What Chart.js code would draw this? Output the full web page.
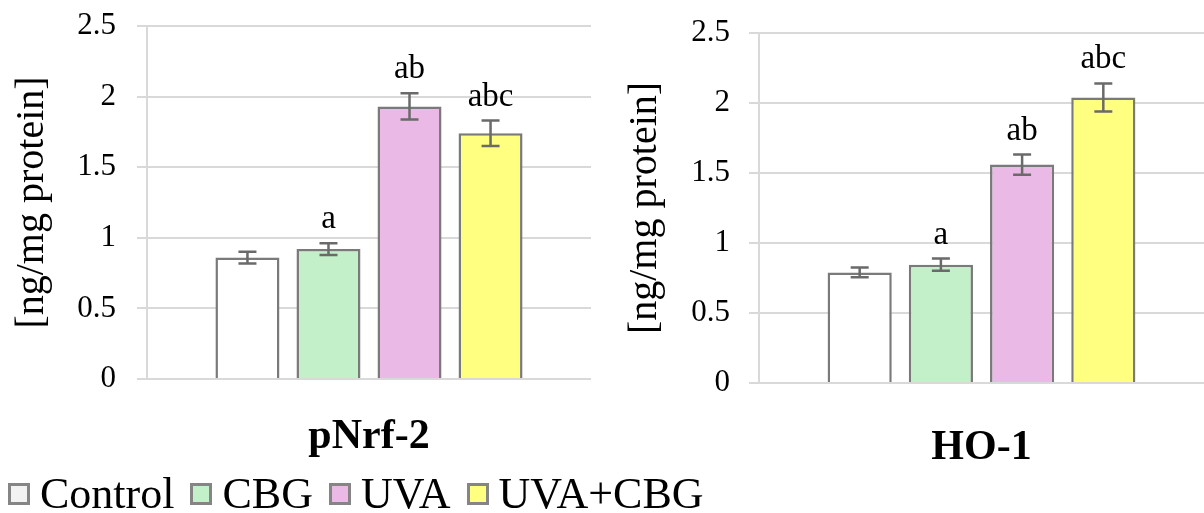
<!DOCTYPE html>
<html>
<head>
<meta charset="utf-8">
<script src="https://cdn.jsdelivr.net/npm/chart.js@4.4.1/dist/chart.umd.min.js"></script>
<style>
  html, body { margin: 0; padding: 0; background: #fff; }
  body { width: 1204px; height: 513px; position: relative; overflow: hidden;
         font-family: "Liberation Serif", "Times New Roman", serif; }
  .panel { position: absolute; top: 0; }
  #legend { position: absolute; left: 8px; top: 472px; display: flex; align-items: center;
            font-size: 44px; line-height: 44px; color: #000; white-space: nowrap; }
  #legend .item { display: flex; align-items: center; margin-right: 16px; }
  #legend .sw { width: 16px; height: 16px; border: 3px solid #858585; margin-right: 10px; }
</style>
</head>
<body>
<div class="panel" style="left:0;width:600px;height:460px"><canvas id="nrf"></canvas></div>
<div class="panel" style="left:600px;width:604px;height:470px"><canvas id="ho"></canvas></div>
<div id="legend"></div>
<script>
const groups = ['Control', 'CBG', 'UVA', 'UVA+CBG'];

const nrfValues = [0.86, 0.92, 1.93, 1.74];
const nrfErrors = [0.042, 0.041, 0.093, 0.09];
const nrfLetters = ['', 'a', 'ab', 'abc'];

const hoValues = [0.79, 0.845, 1.56, 2.04];
const hoErrors = [0.035, 0.044, 0.072, 0.1];
const hoLetters = ['', 'a', 'ab', 'abc'];

const yTicks = { min: 0, max: 2.5, step: 0.5 };

const barColors = ['#ffffff', '#c3f0c8', '#ebb9e5', '#ffff80'];
const swatchColors = ['#f2f2f2', '#c3f0c8', '#ebb9e5', '#ffff80'];
const serif = '"Liberation Serif", "Times New Roman", serif';

// error bars + significance letters, drawn from the bar elements
const errorBars = {
    id: 'errorBars',
    afterDatasetsDraw(chart) {
        const ctx = chart.ctx;
        const y = chart.scales.y;
        chart.data.datasets.forEach((ds, i) => {
            const bar = chart.getDatasetMeta(i).data[0];
            const v = ds.data[0];
            const top = y.getPixelForValue(v + ds.err);
            const bot = y.getPixelForValue(v - ds.err);
            const x = bar.x;
            ctx.save();
            ctx.strokeStyle = '#6a6a6a';
            ctx.lineWidth = 2.5;
            ctx.beginPath();
            ctx.moveTo(x, top); ctx.lineTo(x, bot);
            ctx.moveTo(x - 9, top); ctx.lineTo(x + 9, top);
            ctx.moveTo(x - 9, bot); ctx.lineTo(x + 9, bot);
            ctx.stroke();
            if (ds.letter) {
                ctx.fillStyle = '#000';
                ctx.font = '33px ' + serif;
                ctx.textAlign = 'center';
                ctx.textBaseline = 'alphabetic';
                ctx.fillText(ds.letter, x, top - 15);
            }
            ctx.restore();
        });
    }
};

function makeChart(id, title, values, errors, letters, opt) {
    const datasets = groups.map((g, i) => ({
        label: g,
        data: [values[i]],
        err: errors[i],
        letter: letters[i],
        backgroundColor: barColors[i],
        borderColor: '#7a7a7a',
        borderWidth: 2.5,
        categoryPercentage: 0.73,
        barPercentage: 0.79
    }));
    return new Chart(document.getElementById(id), {
        type: 'bar',
        data: { labels: [title], datasets },
        plugins: [errorBars],
        options: {
            responsive: true,
            maintainAspectRatio: false,
            animation: false,
            layout: { padding: { top: opt.top, right: opt.right, left: 0, bottom: 0 } },
            plugins: { legend: { display: false }, tooltip: { enabled: false } },
            scales: {
                x: {
                    grid: { display: false, drawTicks: false },
                    border: { display: false },
                    ticks: { color: '#000', padding: opt.xPad, maxRotation: 0,
                             font: { family: serif, size: 42, weight: 'bold' } },
                    afterFit: (s) => {
                        s.height = opt.xHeight;
                        s.paddingLeft = 0; s.paddingRight = 0;
                    }
                },
                y: {
                    min: yTicks.min,
                    max: yTicks.max,
                    ticks: { stepSize: yTicks.step, color: '#000', padding: opt.yPad,
                             font: { family: serif, size: 31 },
                             callback: (v) => String(+v.toFixed(1)) },
                    grid: { color: '#d9d9d9', lineWidth: 2, tickLength: 10 },
                    border: { color: '#d9d9d9', width: 2 },
                    title: { display: true, text: '[ng/mg protein]', color: '#000',
                             padding: { top: opt.titlePad, bottom: 0 },
                             font: { family: serif, size: 40, lineHeight: 1 } },
                    afterFit: (s) => {
                        s.width = opt.yWidth;
                        s.paddingTop = 0; s.paddingBottom = 0;
                    }
                }
            }
        }
    });
}

makeChart('nrf', 'pNrf-2', nrfValues, nrfErrors, nrfLetters,
    { top: 26, right: 9, xPad: 33, xHeight: 81, yPad: 21, titlePad: 12, yWidth: 147 });
makeChart('ho', 'HO-1', hoValues, hoErrors, hoLetters,
    { top: 33, right: 0, xPad: 40, xHeight: 87, yPad: 19, titlePad: 25, yWidth: 159 });

const legend = document.getElementById('legend');
groups.forEach((g, i) => {
    const item = document.createElement('div');
    item.className = 'item';
    const sw = document.createElement('span');
    sw.className = 'sw';
    sw.style.background = swatchColors[i];
    const txt = document.createElement('span');
    txt.textContent = g;
    item.appendChild(sw);
    item.appendChild(txt);
    legend.appendChild(item);
});
</script>
</body>
</html>
